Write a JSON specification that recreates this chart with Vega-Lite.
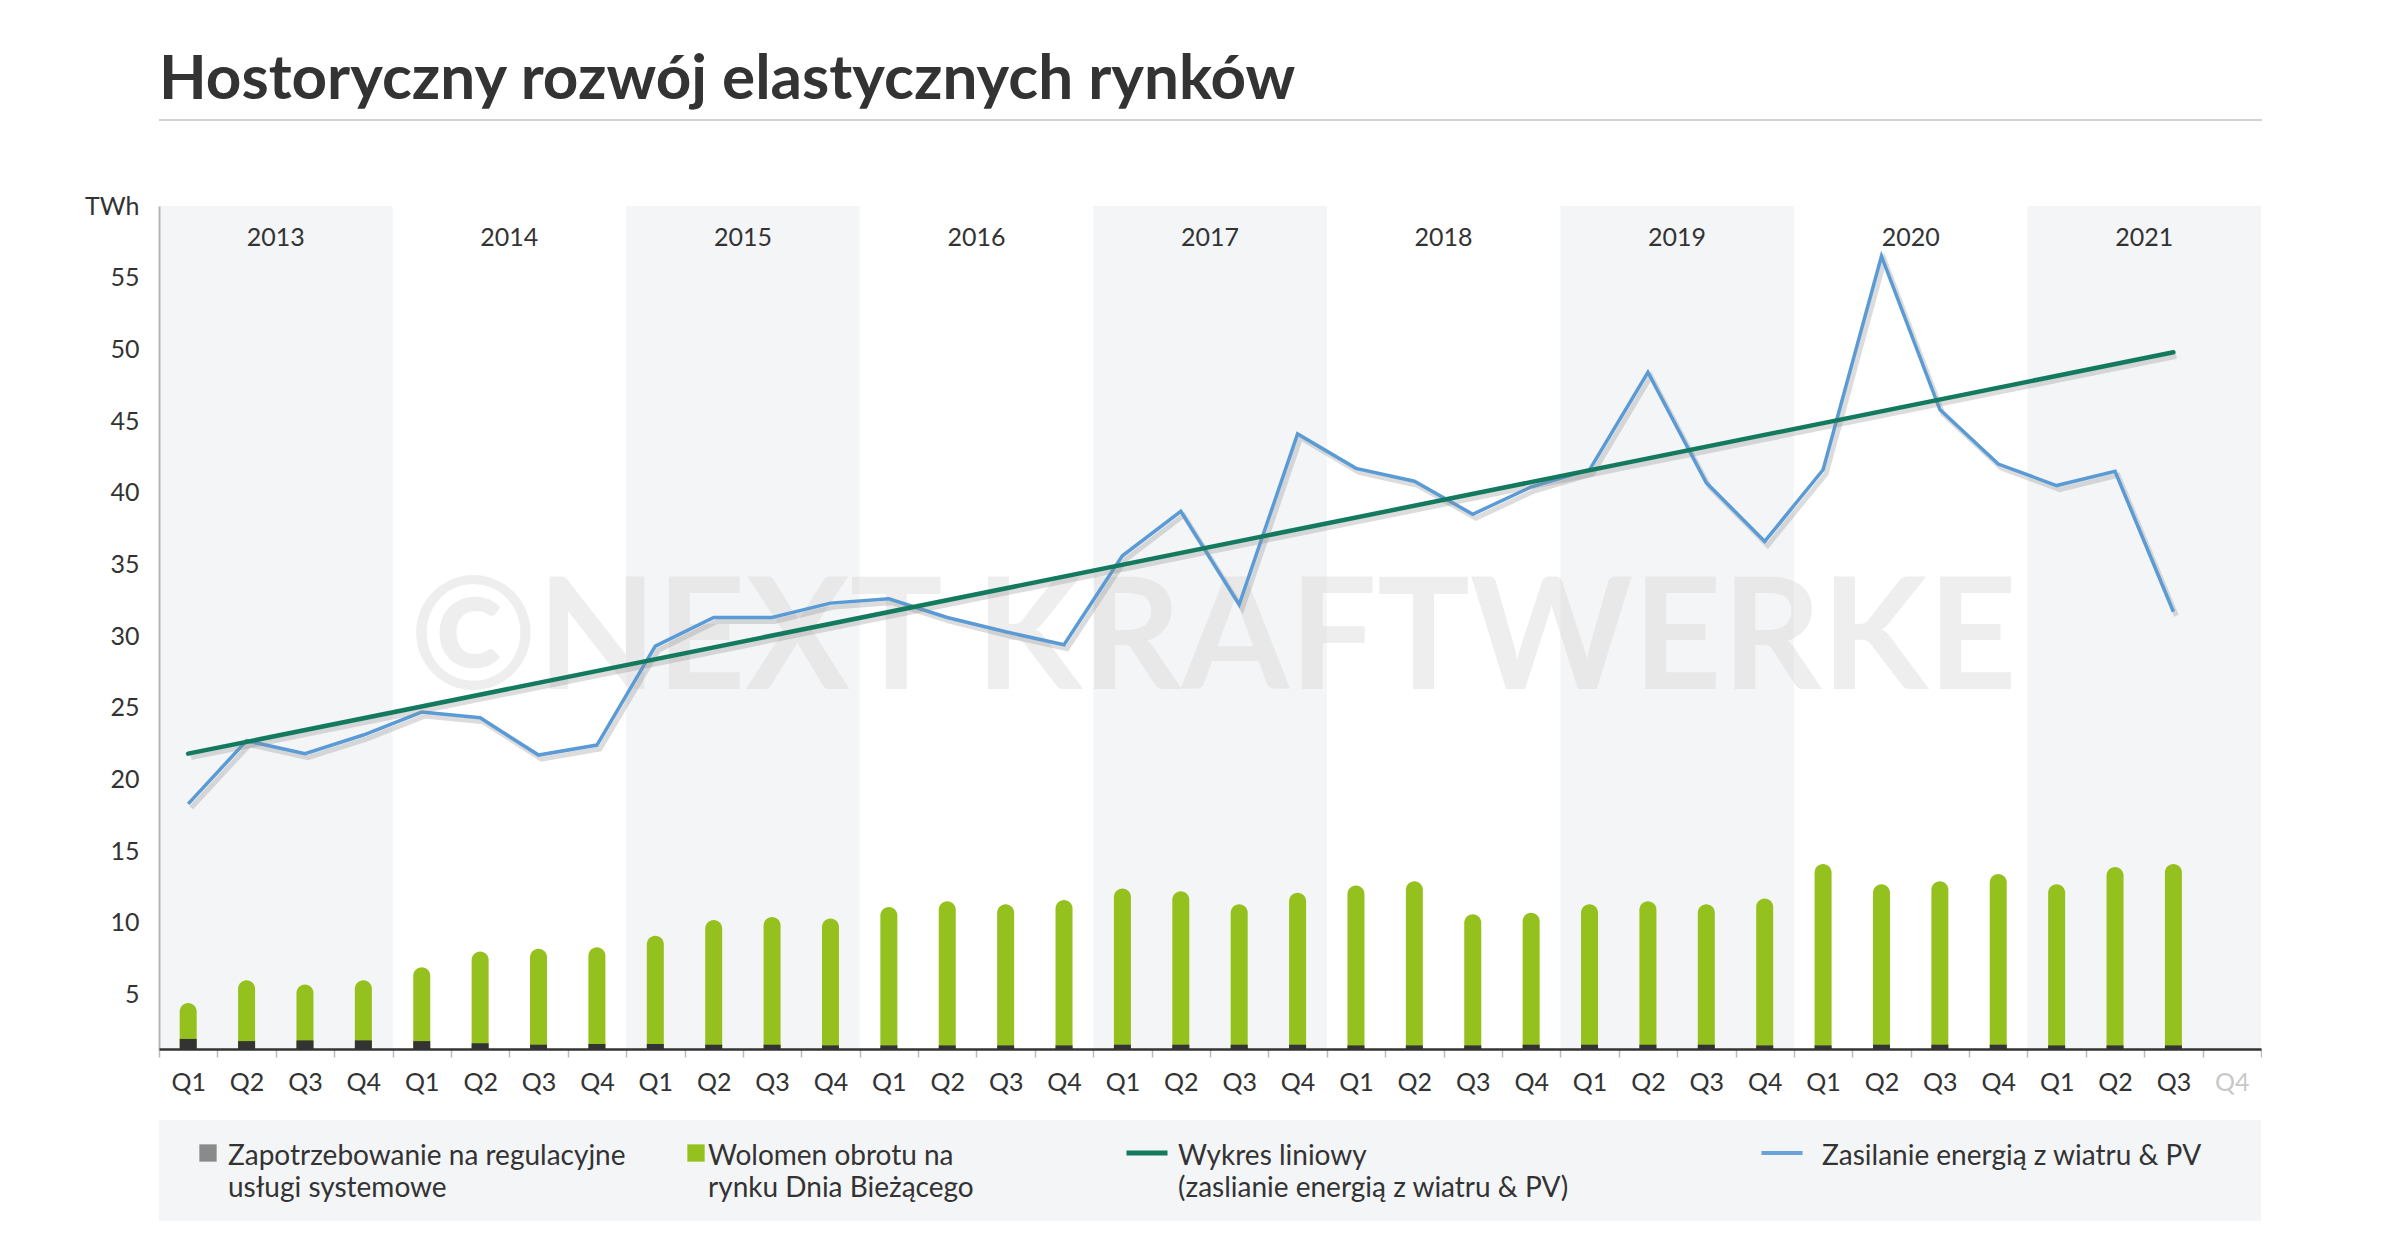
{
  "$schema": "https://vega.github.io/schema/vega-lite/v6.json",
  "background": "#ffffff",
  "padding": {"left": 84, "top": 49, "right": 0, "bottom": 0},
  "spacing": 73,
  "config": {
    "font": "Lato",
    "view": {"stroke": null}
  },
  "datasets": {
    "quarters": [
      {"q": "2013 Q1", "year": "2013", "reg": 1.9, "rdb": 4.4, "wind": 18.3, "trend": 21.8},
      {"q": "2013 Q2", "year": "2013", "reg": 1.75, "rdb": 6.0, "wind": 22.7},
      {"q": "2013 Q3", "year": "2013", "reg": 1.8, "rdb": 5.7, "wind": 21.8},
      {"q": "2013 Q4", "year": "2013", "reg": 1.8, "rdb": 6.0, "wind": 23.1},
      {"q": "2014 Q1", "year": "2014", "reg": 1.75, "rdb": 6.9, "wind": 24.7},
      {"q": "2014 Q2", "year": "2014", "reg": 1.6, "rdb": 8.0, "wind": 24.3},
      {"q": "2014 Q3", "year": "2014", "reg": 1.5, "rdb": 8.2, "wind": 21.7},
      {"q": "2014 Q4", "year": "2014", "reg": 1.55, "rdb": 8.3, "wind": 22.4},
      {"q": "2015 Q1", "year": "2015", "reg": 1.55, "rdb": 9.1, "wind": 29.3},
      {"q": "2015 Q2", "year": "2015", "reg": 1.5, "rdb": 10.2, "wind": 31.3},
      {"q": "2015 Q3", "year": "2015", "reg": 1.5, "rdb": 10.4, "wind": 31.3},
      {"q": "2015 Q4", "year": "2015", "reg": 1.45, "rdb": 10.3, "wind": 32.3},
      {"q": "2016 Q1", "year": "2016", "reg": 1.45, "rdb": 11.1, "wind": 32.6},
      {"q": "2016 Q2", "year": "2016", "reg": 1.45, "rdb": 11.5, "wind": 31.3},
      {"q": "2016 Q3", "year": "2016", "reg": 1.45, "rdb": 11.3, "wind": 30.3},
      {"q": "2016 Q4", "year": "2016", "reg": 1.45, "rdb": 11.6, "wind": 29.4},
      {"q": "2017 Q1", "year": "2017", "reg": 1.5, "rdb": 12.4, "wind": 35.6},
      {"q": "2017 Q2", "year": "2017", "reg": 1.5, "rdb": 12.2, "wind": 38.7},
      {"q": "2017 Q3", "year": "2017", "reg": 1.5, "rdb": 11.3, "wind": 32.2},
      {"q": "2017 Q4", "year": "2017", "reg": 1.5, "rdb": 12.1, "wind": 44.1},
      {"q": "2018 Q1", "year": "2018", "reg": 1.45, "rdb": 12.6, "wind": 41.7},
      {"q": "2018 Q2", "year": "2018", "reg": 1.45, "rdb": 12.9, "wind": 40.8},
      {"q": "2018 Q3", "year": "2018", "reg": 1.45, "rdb": 10.6, "wind": 38.5},
      {"q": "2018 Q4", "year": "2018", "reg": 1.5, "rdb": 10.7, "wind": 40.4},
      {"q": "2019 Q1", "year": "2019", "reg": 1.5, "rdb": 11.3, "wind": 41.6},
      {"q": "2019 Q2", "year": "2019", "reg": 1.5, "rdb": 11.5, "wind": 48.4},
      {"q": "2019 Q3", "year": "2019", "reg": 1.5, "rdb": 11.3, "wind": 40.7},
      {"q": "2019 Q4", "year": "2019", "reg": 1.45, "rdb": 11.7, "wind": 36.6},
      {"q": "2020 Q1", "year": "2020", "reg": 1.45, "rdb": 14.1, "wind": 41.6},
      {"q": "2020 Q2", "year": "2020", "reg": 1.5, "rdb": 12.7, "wind": 56.5},
      {"q": "2020 Q3", "year": "2020", "reg": 1.5, "rdb": 12.9, "wind": 45.8},
      {"q": "2020 Q4", "year": "2020", "reg": 1.5, "rdb": 13.4, "wind": 42.0},
      {"q": "2021 Q1", "year": "2021", "reg": 1.45, "rdb": 12.7, "wind": 40.5},
      {"q": "2021 Q2", "year": "2021", "reg": 1.45, "rdb": 13.9, "wind": 41.5},
      {"q": "2021 Q3", "year": "2021", "reg": 1.45, "rdb": 14.1, "wind": 31.7, "trend": 49.8},
      {"q": "2021 Q4", "year": "2021"}
    ]
  },
  "vconcat": [
    {
      "title": {
        "text": "Hostoryczny rozwój elastycznych rynków",
        "anchor": "start",
        "font": "Lato",
        "fontSize": 62,
        "fontWeight": "bold",
        "color": "#333333",
        "offset": 7
      },
      "width": 2103,
      "height": 2,
      "data": {"values": [{}]},
      "mark": {"type": "rect", "color": "#d2d2d2"},
      "encoding": {}
    },
    {
      "spacing": 25,
      "vconcat": [
        {
          "width": 2102,
          "height": 843,
          "data": {"name": "quarters"},
          "encoding": {
            "x": {
              "field": "q",
              "type": "ordinal",
              "scale": {"paddingInner": 0, "paddingOuter": 0},
              "axis": {
                "title": null,
                "labelExpr": "split(datum.value, ' ')[1]",
                "labelAngle": 0,
                "labelFont": "Lato",
                "labelFontSize": 25,
                "labelColor": {"condition": {"test": "datum.value == '2021 Q4'", "value": "#c8c8c8"}, "value": "#333333"},
                "labelPadding": 13,
                "domainColor": "#333333",
                "domainWidth": 2.5,
                "tickBand": "extent",
                "tickColor": "#bbbbbb",
                "tickSize": 8,
                "tickWidth": 1.5,
                "grid": false
              }
            }
          },
          "layer": [
            {
              "transform": [{"filter": "indexof(['2013', '2015', '2017', '2019', '2021'], datum.year) >= 0"}],
              "mark": {"type": "rect", "color": "#5a6a8a", "opacity": 0.065}
            },
            {
              "data": {"values": [{"t": "©NEXT KRAFTWERKE"}]},
              "mark": {"type": "text", "font": "Lato", "fontWeight": "bold", "fontSize": 155, "color": "#d8d8d8", "opacity": 0.42, "baseline": "middle", "xOffset": -26},
              "encoding": {
                "x": {"datum": "2017 Q3", "type": "ordinal"},
                "y": {"datum": 29.6, "type": "quantitative", "scale": {"domain": [1.2, 60], "nice": false, "zero": false}},
                "text": {"field": "t"}
              }
            },
            {
              "mark": {"type": "bar", "width": 17, "color": "#95c11f", "cornerRadiusTopLeft": 8.5, "cornerRadiusTopRight": 8.5},
              "encoding": {
                "y": {
                  "field": "rdb",
                  "type": "quantitative",
                  "title": null,
                  "scale": {"domain": [1.2, 60], "nice": false, "zero": false},
                  "axis": {
                    "values": [5, 10, 15, 20, 25, 30, 35, 40, 45, 50, 55, 60],
                    "labelExpr": "datum.value == 60 ? 'TWh' : datum.label",
                    "labelFont": "Lato",
                    "labelFontSize": 25,
                    "labelColor": "#333333",
                    "labelPadding": 20,
                    "ticks": false,
                    "domainColor": "#bbbbbb",
                    "domainWidth": 2,
                    "gridColor": "#cccccc",
                    "gridDash": [8, 5],
                    "gridWidth": 1.5
                  }
                },
                "y2": {"datum": 1.2}
              }
            },
            {
              "mark": {"type": "bar", "width": 17, "color": "#333333"},
              "encoding": {
                "y": {"field": "reg", "type": "quantitative", "title": null, "scale": {"domain": [1.2, 60], "nice": false, "zero": false}},
                "y2": {"datum": 1.2}
              }
            },
            {
              "mark": {"type": "line", "color": "#8a8a8a", "opacity": 0.3, "strokeWidth": 5, "xOffset": 3, "yOffset": 4},
              "encoding": {
                "y": {"field": "wind", "type": "quantitative", "title": null, "scale": {"domain": [1.2, 60], "nice": false, "zero": false}}
              }
            },
            {
              "mark": {"type": "line", "color": "#5b9bd5", "strokeWidth": 3.5},
              "encoding": {
                "y": {"field": "wind", "type": "quantitative", "title": null, "scale": {"domain": [1.2, 60], "nice": false, "zero": false}}
              }
            },
            {
              "transform": [{"filter": "isValid(datum.trend)"}],
              "mark": {"type": "line", "color": "#8a8a8a", "opacity": 0.3, "strokeWidth": 5, "xOffset": 3, "yOffset": 4},
              "encoding": {
                "y": {"field": "trend", "type": "quantitative", "title": null, "scale": {"domain": [1.2, 60], "nice": false, "zero": false}}
              }
            },
            {
              "transform": [{"filter": "isValid(datum.trend)"}],
              "mark": {"type": "line", "color": "#137a5f", "strokeWidth": 4.5, "strokeCap": "round"},
              "encoding": {
                "y": {"field": "trend", "type": "quantitative", "title": null, "scale": {"domain": [1.2, 60], "nice": false, "zero": false}}
              }
            },
            {
              "transform": [{"filter": "split(datum.q, ' ')[1] == 'Q2'"}],
              "mark": {"type": "text", "font": "Lato", "fontSize": 25, "color": "#333333", "baseline": "middle"},
              "encoding": {
                "x": {"field": "q", "type": "ordinal", "bandPosition": 1},
                "y": {"datum": 57.8, "type": "quantitative", "scale": {"domain": [1.2, 60], "nice": false, "zero": false}},
                "text": {"field": "year"}
              }
            }
          ]
        },
        {
          "spacing": 0,
          "hconcat": [
            {
              "width": 488,
              "height": 101,
              "view": {"fill": "#f4f5f7", "stroke": null},
              "data": {"values": [{"item": "Zapotrzebowanie na regulacyjne\nusługi systemowe"}]},
              "encoding": {
                "x": {"field": "item", "type": "nominal", "bandPosition": 0, "scale": {"type": "band", "paddingInner": 0, "paddingOuter": 0}, "axis": null}
              },
              "layer": [
                {"mark": {"type": "point", "shape": "square", "size": 300, "filled": true, "opacity": 1, "strokeWidth": 0, "color": "#8a8a8a", "xOffset": 49, "yOffset": -17.5}},
                {
                  "mark": {"type": "text", "font": "Lato", "fontSize": 28, "color": "#333333", "align": "left", "baseline": "top", "lineBreak": "\n", "lineHeight": 32, "xOffset": 69, "yOffset": -28},
                  "encoding": {"text": {"field": "item"}}
                }
              ]
            },
            {
              "width": 451,
              "height": 101,
              "view": {"fill": "#f4f5f7", "stroke": null},
              "data": {"values": [{"item": "Wolomen obrotu na\nrynku Dnia Bieżącego"}]},
              "encoding": {
                "x": {"field": "item", "type": "nominal", "bandPosition": 0, "scale": {"type": "band", "paddingInner": 0, "paddingOuter": 0}, "axis": null}
              },
              "layer": [
                {"mark": {"type": "point", "shape": "square", "size": 300, "filled": true, "opacity": 1, "strokeWidth": 0, "color": "#95c11f", "xOffset": 49, "yOffset": -17.5}},
                {
                  "mark": {"type": "text", "font": "Lato", "fontSize": 28, "color": "#333333", "align": "left", "baseline": "top", "lineBreak": "\n", "lineHeight": 32, "xOffset": 61, "yOffset": -28},
                  "encoding": {"text": {"field": "item"}}
                }
              ]
            },
            {
              "width": 635,
              "height": 101,
              "view": {"fill": "#f4f5f7", "stroke": null},
              "data": {"values": [{"item": "Wykres liniowy\n(zaslianie energią z wiatru & PV)"}]},
              "encoding": {
                "x": {"field": "item", "type": "nominal", "bandPosition": 0, "scale": {"type": "band", "paddingInner": 0, "paddingOuter": 0}, "axis": null}
              },
              "layer": [
                {"mark": {"type": "point", "shape": "M-1,-0.12H1V0.12H-1Z", "size": 1681, "filled": true, "opacity": 1, "strokeWidth": 0, "color": "#137a5f", "xOffset": 49, "yOffset": -17.5}},
                {
                  "mark": {"type": "text", "font": "Lato", "fontSize": 28, "color": "#333333", "align": "left", "baseline": "top", "lineBreak": "\n", "lineHeight": 32, "xOffset": 80, "yOffset": -28},
                  "encoding": {"text": {"field": "item"}}
                }
              ]
            },
            {
              "width": 528,
              "height": 101,
              "view": {"fill": "#f4f5f7", "stroke": null},
              "data": {"values": [{"item": "Zasilanie energią z wiatru & PV"}]},
              "encoding": {
                "x": {"field": "item", "type": "nominal", "bandPosition": 0, "scale": {"type": "band", "paddingInner": 0, "paddingOuter": 0}, "axis": null}
              },
              "layer": [
                {"mark": {"type": "point", "shape": "M-1,-0.1H1V0.1H-1Z", "size": 1681, "filled": true, "opacity": 1, "strokeWidth": 0, "color": "#6aa2d8", "xOffset": 49, "yOffset": -17.5}},
                {
                  "mark": {"type": "text", "font": "Lato", "fontSize": 28, "color": "#333333", "align": "left", "baseline": "top", "lineBreak": "\n", "lineHeight": 32, "xOffset": 89, "yOffset": -28},
                  "encoding": {"text": {"field": "item"}}
                }
              ]
            }
          ]
        }
      ]
    }
  ]
}
